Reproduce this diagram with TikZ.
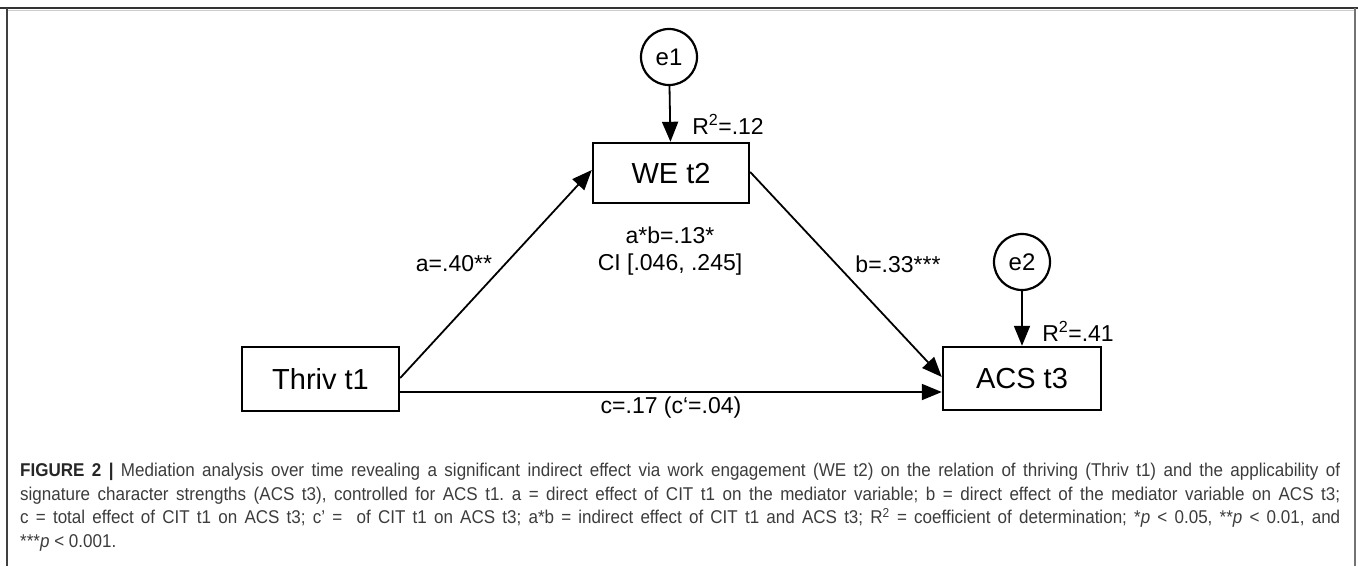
\documentclass[tikz,border=0pt]{standalone}
\usepackage{fontspec}
\setmainfont{Liberation Sans}
\newfontfamily\capfont[FakeStretch=0.92]{Liberation Sans}
\usetikzlibrary{arrows.meta}
\definecolor{capgray}{HTML}{3C3C3C}
\tikzset{
  box/.style={draw, line width=2.4pt, inner sep=0pt, font=\fontsize{29}{29}\selectfont},
  errc/.style={draw, circle, line width=2.2pt, minimum size=56pt, inner sep=0pt, font=\fontsize{24}{24}\selectfont},
  lbl/.style={inner sep=0pt, font=\fontsize{23}{27}\selectfont, align=center},
  arr/.style={line width=1.8pt, -{Triangle[length=20pt,width=16pt]}},
  frame/.style={line width=1.5pt, draw=black!80}
}
\begin{document}
\begin{tikzpicture}[x=1pt,y=-1pt]
\useasboundingbox (0,0) rectangle (1358,566);
% frame
\draw[frame] (0,8) -- (1358,8);
\draw[line width=1pt, black!20] (8,10.5) -- (1354,10.5);
\draw[line width=1.4pt, black!75] (7,8) -- (7,566);
\draw[line width=1.4pt, black!55] (1355,8) -- (1355,566);
% nodes
\node[errc] (e1) at (669,57) {e1};
\node[box, minimum width=156pt, minimum height=60pt] (we) at (671,173) {WE t2};
\node[box, minimum width=157pt, minimum height=64pt] (thr) at (320.5,379) {Thriv t1};
\node[box, minimum width=158pt, minimum height=63pt] (acs) at (1022,378.5) {ACS t3};
\node[errc] (e2) at (1022,262) {e2};
% connectors
\draw[arr] (e1) -- (we);
\draw[arr] (e2) -- (acs);
\draw[arr] ([yshift=1pt]thr.east) -- ([yshift=3pt]we.west);
\draw[arr] ([yshift=1pt]we.east) -- ([yshift=1.5pt]acs.west);
\draw[arr] ([yshift=-13pt]thr.east) -- ([yshift=-13.5pt]acs.west);
% labels
\node[lbl] (r1) at (728,124) {R\textsuperscript{2}=.12};
\node[lbl] (r2) at (1078,331) {R\textsuperscript{2}=.41};
\node[lbl] (la) at (454,264) {a=.40**};
\node[lbl] (lab) at (670,251) {a*b=.13*\\CI [.046, .245]};
\node[lbl] (lb) at (898,264) {b=.33***};
\node[lbl] (lc) at (671,408) {c=.17 (c‘=.04)};
% caption
\node[anchor=north west, inner sep=0pt, text width=1320pt, align=justify, text=capgray,
      font=\capfont\fontsize{18.5}{23.5}\selectfont\frenchspacing] (cap) at (20,463)
{{\bfseries\color{black!85}FIGURE 2 |} Mediation analysis over time revealing a significant indirect effect via work engagement (WE t2) on the relation of thriving (Thriv t1) and the applicability of\linebreak
signature character strengths (ACS t3), controlled for ACS t1. a = direct effect of CIT t1 on the mediator variable; b = direct effect of the mediator variable on ACS t3;\linebreak
c = total effect of CIT t1 on ACS t3; c’ =~ of CIT t1 on ACS t3; a*b = indirect effect of CIT t1 and ACS t3; R\textsuperscript{2} = coefficient of determination; *\textit{p} < 0.05, **\textit{p} < 0.01, and\linebreak
***\textit{p} < 0.001.};
\end{tikzpicture}
\end{document}
